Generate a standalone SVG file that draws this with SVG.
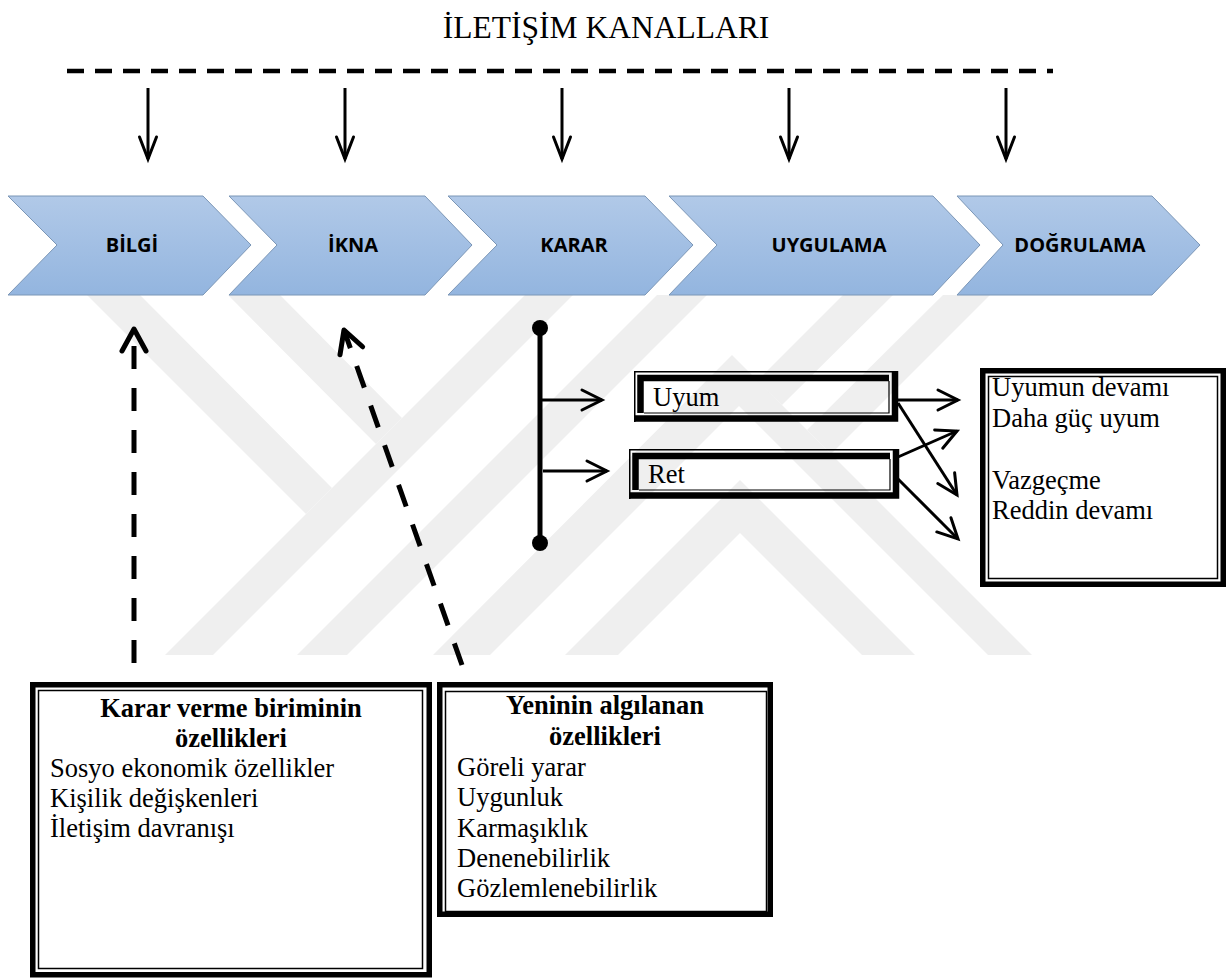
<svg xmlns="http://www.w3.org/2000/svg" width="1231" height="978" viewBox="0 0 1231 978">
<style>
.wm{fill:#efefef}
.chev{fill:url(#chevGrad);stroke:#7b96b6;stroke-width:1}
.clabel{font-family:"Open Sans","Liberation Sans",sans-serif;font-weight:700;font-size:20px;text-anchor:middle;fill:#000}
.t{font-family:"Liberation Serif","Times New Roman",serif;font-size:26.5px;fill:#000}
.tb{font-weight:700;text-anchor:middle}
.title{font-family:"Liberation Serif","Times New Roman",serif;font-size:31.5px;text-anchor:middle;fill:#000}
.sol{stroke:#000;stroke-width:3;fill:none;marker-end:url(#ah)}
.down{stroke:#000;stroke-width:3;fill:none;marker-end:url(#ahDown)}
.dash{stroke:#000;stroke-width:5;fill:none;stroke-dasharray:23 19;marker-end:url(#ahDash)}
.thk{fill:none;stroke:#000;stroke-width:5.5}
.thn{fill:none;stroke:#000;stroke-width:1.5}
</style>
<defs>
<linearGradient id="chevGrad" x1="0" y1="0" x2="0" y2="1">
<stop offset="0" stop-color="#b1c9e8"/>
<stop offset="1" stop-color="#93b5df"/>
</linearGradient>
<marker id="ah" markerUnits="userSpaceOnUse" orient="auto" markerWidth="40" markerHeight="40" refX="0" refY="0" style="overflow:visible">
<path d="M -20 -10 L 0 0 L -20 10" fill="none" stroke="#000" stroke-width="3" stroke-dasharray="none" stroke-linecap="round"/>
</marker>
<marker id="ahDown" markerUnits="userSpaceOnUse" orient="auto" markerWidth="40" markerHeight="40" refX="0" refY="0" style="overflow:visible">
<path d="M -22 -8.5 L 0 0 L -22 8.5" fill="none" stroke="#000" stroke-width="3" stroke-dasharray="none" stroke-linecap="round"/>
</marker>
<marker id="ahDash" markerUnits="userSpaceOnUse" orient="auto" markerWidth="40" markerHeight="40" refX="0" refY="0" style="overflow:visible">
<path d="M -22 -12 L 0 0 L -22 12" fill="none" stroke="#000" stroke-width="5" stroke-dasharray="none" stroke-linecap="round" stroke-linejoin="round"/>
</marker>
</defs>
<rect width="1231" height="978" fill="#fff"/>
<g id="watermark">
<polygon class="wm" points="165,655 213,655 573,295 525,295"/>
<polygon class="wm" points="87,295 140,295 332,488 306,514"/>
<polygon class="wm" points="228,295 280,295 402,418 376,444"/>
<polygon class="wm" points="297,655 347,655 707,295 657,295"/>
<polygon class="wm" points="433,655 732,355 1032,655 988,655 739,406 490,655"/>
<polygon class="wm" points="565,655 740,480 915,655 862,655 740,533 618,655"/>
<polygon class="wm" points="843,295 893,295 782,405 757,381"/>
<polygon class="wm" points="943,295 990,295 831,454 807,430"/>
</g>
<g id="title">
<text class="title" x="606" y="38">İLETİŞİM KANALLARI</text>
<line x1="67" y1="71" x2="1053" y2="71" stroke="#000" stroke-width="4.5" stroke-dasharray="17 11"/>
</g>
<g id="stage-bilgi">
<path class="chev" d="M8,196 H203 L251,245 L203,295 H8 L57,245 Z"/>
<text class="clabel" x="132" y="252">BİLGİ</text>
</g>
<g id="stage-ikna">
<path class="chev" d="M229,196 H425 L472,245 L425,295 H229 L277,245 Z"/>
<text class="clabel" x="353" y="252">İKNA</text>
</g>
<g id="stage-karar">
<path class="chev" d="M448,196 H645 L693,245 L645,295 H448 L497,245 Z"/>
<text class="clabel" x="574" y="252">KARAR</text>
</g>
<g id="stage-uygulama">
<path class="chev" d="M669,196 H933 L980,245 L933,295 H669 L717,245 Z"/>
<text class="clabel" x="829" y="252">UYGULAMA</text>
</g>
<g id="stage-dogrulama">
<path class="chev" d="M957,196 H1152 L1200,245 L1152,295 H957 L1003,245 Z"/>
<text class="clabel" x="1080" y="252">DOĞRULAMA</text>
</g>
<g id="decision-bar">
<line x1="540" y1="328" x2="540" y2="543" stroke="#000" stroke-width="5"/>
<circle cx="540" cy="328" r="8" fill="#000"/>
<circle cx="540" cy="543" r="8" fill="#000"/>
</g>
<g id="box-uyum">
<path d="M634.75,422 V371.75 H898" class="thn"/>
<path d="M634,418.5 H895 V371" fill="none" stroke="#000" stroke-width="6.5"/>
<path d="M640.5,413 V378 H889" fill="none" stroke="#000" stroke-width="6.5"/>
<path d="M644,413 H889 V381" fill="none" stroke="#000" stroke-width="1.2"/>
<text class="t" x="653" y="406">Uyum</text>
</g>
<g id="box-ret">
<path d="M629.75,499 V449.75 H899" class="thn"/>
<path d="M629,495.5 H896 V449" fill="none" stroke="#000" stroke-width="6.5"/>
<path d="M635.5,490 V456 H890" fill="none" stroke="#000" stroke-width="6.5"/>
<path d="M639,490 H890 V459" fill="none" stroke="#000" stroke-width="1.2"/>
<text class="t" x="648" y="483">Ret</text>
</g>
<g id="box-sonuc">
<rect class="thk" x="982.75" y="370.75" width="240.5" height="213.5"/>
<rect class="thn" x="988.5" y="376.5" width="229" height="202"/>
<text class="t" x="992" y="396">Uyumun devamı</text>
<text class="t" x="992" y="427">Daha güç uyum</text>
<text class="t" x="992" y="489">Vazgeçme</text>
<text class="t" x="992" y="519">Reddin devamı</text>
</g>
<g id="box-karar-verme">
<rect class="thk" x="32.75" y="684.75" width="396.5" height="290"/>
<rect class="thn" x="38.5" y="690.5" width="384" height="278"/>
<text class="t tb" x="231" y="717">Karar verme biriminin</text>
<text class="t tb" x="231" y="747">özellikleri</text>
<text class="t" x="50" y="777">Sosyo ekonomik özellikler</text>
<text class="t" x="50" y="807">Kişilik değişkenleri</text>
<text class="t" x="50" y="837">İletişim davranışı</text>
</g>
<g id="box-yeninin">
<rect class="thk" x="439.75" y="684.75" width="330.5" height="229.5"/>
<rect class="thn" x="445.5" y="691.5" width="321" height="220"/>
<text class="t tb" x="605" y="714">Yeninin algılanan</text>
<text class="t tb" x="605" y="745">özellikleri</text>
<text class="t" x="457" y="776">Göreli yarar</text>
<text class="t" x="457" y="806">Uygunluk</text>
<text class="t" x="457" y="837">Karmaşıklık</text>
<text class="t" x="457" y="867">Denenebilirlik</text>
<text class="t" x="457" y="897">Gözlemlenebilirlik</text>
</g>
<g id="connectors">
<line class="down" x1="148" y1="88" x2="148" y2="159"/>
<line class="down" x1="345" y1="88" x2="345" y2="159"/>
<line class="down" x1="562" y1="88" x2="562" y2="159"/>
<line class="down" x1="789" y1="88" x2="789" y2="159"/>
<line class="down" x1="1006" y1="88" x2="1006" y2="159"/>
<line class="dash" x1="134" y1="663" x2="134" y2="329"/>
<line class="dash" x1="462" y1="665" x2="344" y2="330"/>
<line class="sol" x1="542" y1="400" x2="602" y2="400"/>
<line class="sol" x1="543" y1="471" x2="607" y2="471"/>
<line class="sol" x1="898" y1="400" x2="958" y2="400"/>
<line class="sol" x1="898" y1="403" x2="957" y2="495"/>
<line class="sol" x1="898" y1="457" x2="957" y2="431"/>
<line class="sol" x1="898" y1="479" x2="958" y2="539"/>
</g>
</svg>
